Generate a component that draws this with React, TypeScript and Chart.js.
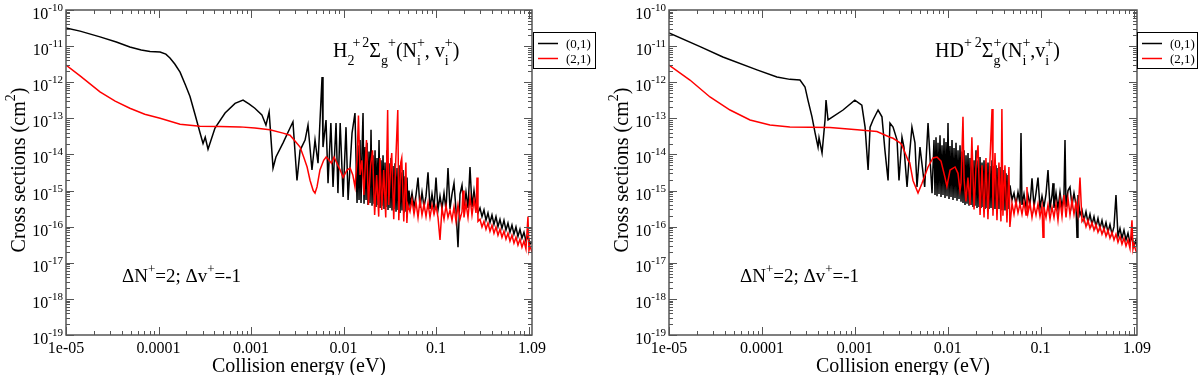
import React, { useEffect, useRef } from "react";
import { Chart, registerables } from "chart.js";

Chart.register(...registerables);

const SERIF = "'Liberation Serif', 'DejaVu Serif', 'Times New Roman', serif";
const AXIS_COLOR = "#555555";

const X_MIN = 1e-5;
const X_MAX = 1.09;
const Y_MIN = 1e-19;
const Y_MAX = 1e-10;

const xMajorTicks = [1e-5, 1e-4, 1e-3, 1e-2, 1e-1, 1];
const xTickValues = [1e-5, 1e-4, 1e-3, 1e-2, 1e-1, 1.09];
const xTickLabels = ["1e-05", "0.0001", "0.001", "0.01", "0.1", "1.09"];
const yTickExponents = [-10, -11, -12, -13, -14, -15, -16, -17, -18, -19];
const minorMultipliers = [2, 3, 4, 5, 6, 7, 8, 9];
const seriesLabels = ["(0,1)", "(2,1)"];
const seriesColors = ["#000000", "#ff0000"];

// H2+ : (0,1) black
const h2Series01: [number, number][] = [
  [1e-5, 3.2e-11], [1.42e-5, 2.6e-11], [2.33e-5, 1.8e-11], [3.5e-5, 1.3e-11], [4.9e-5, 9.5e-12],
  [6.5e-5, 7.8e-12], [8.1e-5, 7.1e-12], [1.04e-4, 6.9e-12], [1.2e-4, 6e-12], [1.33e-4, 4.7e-12],
  [1.5e-4, 3.2e-12], [1.71e-4, 1.9e-12], [1.95e-4, 8.5e-13], [2.19e-4, 4e-13], [2.5e-4, 1.2e-13],
  [2.81e-4, 4e-14], [3.03e-4, 2e-14], [3.2e-4, 3e-14], [3.43e-4, 1.4e-14], [4.08e-4, 5.4e-14],
  [5.24e-4, 1.4e-13], [6.72e-4, 2.6e-13], [8.2e-4, 3.2e-13], [9.5e-4, 2.5e-13], [1.1e-3, 1.9e-13],
  [1.31e-3, 1.25e-13], [1.45e-3, 6.5e-14], [1.57e-3, 1.5e-13], [1.73e-3, 4.2e-15], [1.86e-3, 8.5e-15],
  [2.22e-3, 2.1e-14], [2.64e-3, 5.4e-14], [2.84e-3, 8e-14], [3.14e-3, 1.9e-15], [3.39e-3, 1.3e-14],
  [3.84e-3, 2.5e-14], [4.13e-3, 6.5e-14], [4.56e-3, 3.7e-15], [4.92e-3, 2.5e-14], [5.3e-3, 5.7e-15],
  [5.86e-3, 1.4e-12], [6.0e-3, 1.6e-14], [6.47e-3, 9e-14], [6.8e-3, 1.6e-15], [7.3e-3, 7.4e-14],
  [7.7e-3, 1.26e-15], [8.3e-3, 7.4e-14], [8.7e-3, 8.5e-16], [9.2e-3, 7.4e-14], [9.9e-3, 6.6e-16],
  [0.01064, 5.7e-14], [0.0112, 5.5e-16], [0.01236, 3.9e-14], [0.0133, 1.4e-13], [0.014, 4.5e-16],
  [0.01435, 1.8e-14], [0.01471, 5.5e-16], [0.01508, 2.5e-14], [0.01546, 4.5e-16], [0.01585, 1.3e-14],
  [0.01625, 1.4e-13], [0.01666, 4.3e-16], [0.01708, 1.6e-14], [0.01751, 5.5e-16], [0.01795, 2.1e-14],
  [0.0184, 4e-16], [0.01886, 1.2e-14], [0.01934, 4.5e-16], [0.01983, 4.8e-14], [0.02033, 3.8e-16],
  [0.02084, 9.5e-15], [0.02137, 4.3e-16], [0.02191, 1.3e-14], [0.02246, 3.5e-16], [0.02302, 8e-15],
  [0.0236, 4e-16], [0.0242, 2.5e-14], [0.02481, 3.3e-16], [0.02543, 6.9e-15], [0.02607, 3.8e-16],
  [0.02673, 9.5e-15], [0.02741, 3.1e-16], [0.0281, 6e-15], [0.0288, 3.5e-16], [0.02953, 1.3e-14],
  [0.03027, 2.9e-16], [0.03104, 5.7e-15], [0.03182, 3.3e-16], [0.03262, 8e-15], [0.03344, 2.8e-16],
  [0.03428, 4.8e-15], [0.03515, 3.1e-16], [0.03604, 5.7e-15], [0.03694, 2.6e-16], [0.03787, 4.2e-15],
  [0.03883, 2.9e-16], [0.03981, 5e-15], [0.04081, 2.4e-16], [0.04184, 3.2e-15], [0.04289, 2.8e-16],
  [0.04397, 3.7e-15], [0.04508, 2.4e-16], [0.04622, 2.5e-15], [0.04738, 2.6e-16], [0.04858, 2.3e-15],
  [0.0498, 2.9e-16], [0.05106, 1e-15], [0.05234, 4e-16], [0.05501, 8.5e-16], [0.05782, 3.5e-16],
  [0.06077, 7.5e-16], [0.06387, 2.3e-15], [0.06713, 3.3e-16], [0.07055, 9e-16], [0.07415, 3.5e-16],
  [0.07793, 7e-16], [0.08191, 3.2e-15], [0.08609, 3.1e-16], [0.09048, 8e-16], [0.0951, 3.3e-16],
  [0.09995, 2.3e-15], [0.105, 2.9e-16], [0.1104, 7e-16], [0.116, 3.1e-16], [0.122, 8.5e-16],
  [0.1282, 2.9e-16], [0.1347, 4.2e-15], [0.1416, 3.1e-16], [0.1488, 8e-16], [0.1564, 1.6e-15],
  [0.1644, 2.9e-16], [0.1728, 2.7e-17], [0.1816, 8e-16], [0.1909, 1.4e-15], [0.2006, 2.9e-16],
  [0.2108, 9e-16], [0.2216, 3.3e-16], [0.2329, 4.5e-15], [0.2448, 3.5e-16], [0.2573, 1e-15],
  [0.2704, 3.8e-16], [0.2842, 2.4e-16], [0.2987, 3.3e-16], [0.3139, 1.9e-16], [0.3299, 2.9e-16],
  [0.3468, 1.5e-16], [0.3645, 2.4e-16], [0.3831, 1.3e-16], [0.4026, 2.1e-16], [0.4231, 1.15e-16],
  [0.4447, 1.9e-16], [0.4674, 1e-16], [0.4912, 1.6e-16], [0.5163, 9e-17], [0.5426, 1.5e-16],
  [0.5703, 8e-17], [0.5994, 1.26e-16], [0.63, 7e-17], [0.6621, 1.1e-16], [0.6959, 6.2e-17],
  [0.7314, 9.8e-17], [0.7687, 5.4e-17], [0.8079, 8.5e-17], [0.8491, 4.8e-17], [0.8924, 7e-17],
  [0.9379, 4e-17], [0.9858, 5.4e-17], [1.0361, 3.3e-17], [1.09, 3.7e-17],
];

// H2+ : (2,1) red
const h2Series21: [number, number][] = [
  [1e-5, 3e-12], [1.42e-5, 1.5e-12], [2.33e-5, 5.4e-13], [3.4e-5, 3e-13], [4.9e-5, 1.9e-13],
  [7.1e-5, 1.3e-13], [1.04e-4, 1e-13], [1.71e-4, 6.9e-14], [2.81e-4, 6e-14], [4.6e-4, 5.9e-14],
  [7.6e-4, 5.8e-14], [1.1e-3, 5.4e-14], [1.6e-3, 4.8e-14], [2.22e-3, 3.9e-14], [2.64e-3, 3.4e-14],
  [3.05e-3, 2.2e-14], [3.39e-3, 1.6e-14], [3.75e-3, 7.8e-15], [4.04e-3, 4.5e-15], [4.35e-3, 1.9e-15],
  [4.7e-3, 1e-15], [4.92e-3, 8.5e-16], [5.17e-3, 1.26e-15], [5.56e-3, 3.7e-15], [6.1e-3, 6.9e-15],
  [6.5e-3, 8.5e-15], [7.0e-3, 6.9e-15], [7.4e-3, 5.7e-15], [7.9e-3, 8.5e-15], [8.7e-3, 5e-15],
  [9.2e-3, 3.7e-15], [9.9e-3, 2.3e-15], [0.0109, 3.7e-15], [0.0118, 4.2e-15], [0.0126, 2.7e-15],
  [0.0133, 1.26e-15], [0.014, 6.9e-15], [0.0145, 1.2e-13], [0.0151, 2.7e-15], [0.0158, 6.9e-15],
  [0.0166, 7.5e-16], [0.0177, 2.5e-14], [0.0186, 4e-16], [0.0196, 5e-15], [0.0206, 1.3e-14],
  [0.0217, 2.1e-16], [0.0228, 2.7e-15], [0.024, 1.9e-16], [0.0248, 8e-15], [0.0259, 2.9e-16],
  [0.0272, 3.7e-15], [0.0286, 1.8e-16], [0.03, 1.7e-13], [0.0308, 4e-16], [0.0324, 5e-15],
  [0.0332, 1.1e-14], [0.0349, 1.6e-16], [0.0367, 6.9e-15], [0.0386, 1.7e-13], [0.0396, 1.5e-16],
  [0.0416, 6e-15], [0.0426, 8e-15], [0.0448, 1.4e-16], [0.0472, 6e-15], [0.0484, 1.26e-16],
  [0.0496, 4e-16], [0.0523, 2.6e-16], [0.05501, 5.5e-16], [0.05782, 2.2e-16], [0.06077, 4.8e-16],
  [0.06387, 1.8e-16], [0.06713, 5.5e-16], [0.07055, 2.1e-16], [0.07415, 4.3e-16], [0.07793, 1.9e-16],
  [0.08191, 4.5e-16], [0.08609, 1.8e-16], [0.09048, 4e-16], [0.0951, 2.2e-16], [0.09995, 3.8e-16],
  [0.105, 1.8e-16], [0.1104, 4.3e-17], [0.116, 3.3e-16], [0.122, 1.6e-16], [0.1282, 3.8e-16],
  [0.1347, 1.8e-16], [0.1416, 2.9e-16], [0.1488, 1.5e-16], [0.1564, 3.5e-16], [0.1644, 1.4e-16],
  [0.1728, 4e-16], [0.1816, 1.6e-16], [0.1909, 2.6e-16], [0.1957, 1e-15], [0.2006, 1.8e-16],
  [0.2108, 4.5e-16], [0.2216, 1.8e-16], [0.2329, 6.6e-16], [0.2448, 2.1e-16], [0.2573, 5.5e-16],
  [0.2704, 2.4e-16], [0.2773, 2.3e-15], [0.2842, 1.4e-16], [0.2987, 1.6e-16], [0.3139, 9.8e-17],
  [0.3299, 1.4e-16], [0.3468, 8.5e-17], [0.3645, 1.26e-16], [0.3831, 7.5e-17], [0.4026, 1.1e-16],
  [0.4231, 6.6e-17], [0.4447, 9.8e-17], [0.4674, 5.8e-17], [0.4912, 8.5e-17], [0.5163, 5.1e-17],
  [0.5426, 7.5e-17], [0.5703, 4.5e-17], [0.5994, 6.6e-17], [0.63, 4e-17], [0.6621, 5.8e-17],
  [0.6959, 3.5e-17], [0.7314, 5.1e-17], [0.7687, 3.1e-17], [0.8079, 4.5e-17], [0.8491, 2.7e-17],
  [0.8924, 4e-17], [0.9379, 2.4e-17], [0.9858, 1.9e-16], [1.0106, 2.2e-17], [1.0361, 2.9e-17],
  [1.09, 2e-17],
];

// HD+ : (0,1) black
const hdSeries01: [number, number][] = [
  [1e-5, 2.3e-11], [2.16e-5, 9.7e-12], [3.8e-5, 5e-12], [8.85e-5, 2.2e-12], [1.45e-4, 1.4e-12],
  [2.0e-4, 1.2e-12], [2.57e-4, 1.15e-12], [2.91e-4, 7.4e-13], [3.13e-4, 3.2e-13], [3.46e-4, 1.1e-13],
  [3.73e-4, 4e-14], [4.02e-4, 1.6e-14], [4.12e-4, 2.9e-14], [4.44e-4, 1.1e-14], [4.78e-4, 9e-14],
  [4.9e-4, 3.2e-13], [5.15e-4, 9e-14], [7.47e-4, 1.7e-13], [1.0e-3, 3.2e-13], [1.19e-3, 2.3e-13],
  [1.29e-3, 5.7e-14], [1.39e-3, 3.7e-15], [1.46e-3, 5.7e-14], [1.57e-3, 9e-14], [1.78e-3, 1.7e-13],
  [1.96e-3, 1.1e-13], [2.11e-3, 1.3e-14], [2.28e-3, 1.9e-15], [2.39e-3, 7.4e-14], [2.58e-3, 5.7e-14],
  [2.85e-3, 2.5e-14], [2.99e-3, 1.9e-15], [3.22e-3, 3e-14], [3.38e-3, 1.6e-14], [3.65e-3, 1.26e-15],
  [3.83e-3, 6.9e-15], [4.12e-3, 5.7e-14], [4.44e-3, 2.1e-14], [4.67e-3, 1.26e-15], [5.03e-3, 1.6e-14],
  [5.65e-3, 1.26e-15], [6.14e-3, 7.4e-14], [6.78e-3, 8.5e-16],
  [0.00712, 2.5e-14], [0.007299, 7.5e-16], [0.007482, 3e-14], [0.00767, 7e-16], [0.007862, 2.1e-14],
  [0.008059, 8e-16], [0.008262, 3.4e-14], [0.008469, 6.6e-16], [0.008681, 1.8e-14], [0.008899, 7.5e-16],
  [0.009123, 2.8e-14], [0.009352, 6.2e-16], [0.009586, 2.2e-14], [0.009827, 7e-16], [0.010074, 7.4e-14],
  [0.010327, 5.8e-16], [0.010586, 1.7e-14], [0.010852, 6.6e-16], [0.011124, 2.5e-14], [0.011403, 5.5e-16],
  [0.011689, 1.5e-14], [0.011983, 6.2e-16], [0.012283, 2.1e-14], [0.012592, 5.2e-16], [0.012908, 1.3e-14],
  [0.013231, 5.8e-16], [0.013563, 1.8e-14], [0.013904, 4.9e-16], [0.014253, 1.2e-14], [0.01461, 4.5e-16],
  [0.014977, 1.3e-14], [0.015353, 4e-16], [0.015738, 9.5e-15], [0.016133, 4.3e-16], [0.016538, 1.1e-14],
  [0.016953, 3.8e-16], [0.017378, 8e-15], [0.017814, 4e-16], [0.018261, 8.9e-15], [0.018719, 3.5e-16],
  [0.019189, 6.9e-15], [0.01967, 3.8e-16], [0.020164, 1.3e-14], [0.02067, 3.3e-16], [0.021188, 6.9e-15],
  [0.02172, 3.5e-16], [0.022265, 8.5e-15], [0.022824, 3.3e-16], [0.023396, 6e-15], [0.023983, 3.5e-16],
  [0.024585, 6.9e-15], [0.025202, 3.1e-16], [0.025834, 5.4e-15], [0.026482, 3.3e-16], [0.027147, 6e-15],
  [0.027828, 3.1e-16], [0.028526, 4.8e-15], [0.029242, 3.3e-16], [0.029976, 6.9e-15], [0.030728, 2.9e-16],
  [0.031499, 4.8e-15], [0.032289, 3.1e-16], [0.033099, 5e-15], [0.03393, 2.9e-16], [0.034781, 4.2e-15],
  [0.035654, 3.1e-16], [0.036548, 4.5e-15], [0.037465, 2.8e-16], [0.038405, 3.7e-15], [0.039369, 2.9e-16],
  [0.040357, 3.7e-15], [0.041369, 2.8e-16], [0.042407, 3e-15], [0.043471, 2.9e-16], [0.044562, 2.7e-15],
  [0.04568, 3.1e-16], [0.046826, 1.4e-15],
  [0.04921, 5.5e-16], [0.05171, 8.5e-16], [0.05433, 4e-16], [0.05709, 9e-16], [0.05999, 4.3e-16],
  [0.0615, 3.9e-14], [0.06304, 4e-16], [0.06624, 8e-16], [0.06961, 3.5e-16], [0.07315, 7.5e-16],
  [0.07686, 3.8e-16], [0.08077, 2.2e-15], [0.08487, 3.5e-16], [0.08918, 8.5e-16], [0.09371, 2.3e-15],
  [0.09847, 3.3e-16], [0.1035, 7e-16], [0.1087, 3.5e-16], [0.1143, 8e-16], [0.1201, 3.7e-15],
  [0.1262, 3.3e-16], [0.1326, 7.5e-16], [0.136, 1.6e-15], [0.1393, 3.3e-16], [0.1464, 8.5e-16],
  [0.1538, 3.1e-16], [0.1617, 9e-16], [0.1699, 3.3e-16], [0.1785, 8e-16], [0.183, 2.5e-14],
  [0.1876, 3.5e-16], [0.1971, 1e-15], [0.2071, 1.26e-15], [0.2176, 3.8e-16], [0.2287, 8.5e-16],
  [0.2403, 4e-16], [0.2464, 5.1e-17], [0.2525, 7.5e-16], [0.2653, 2.1e-16], [0.2788, 2.9e-16],
  [0.293, 1.5e-16], [0.3079, 2.6e-16], [0.3235, 1.3e-16], [0.3399, 2.2e-16], [0.3572, 1.15e-16],
  [0.3754, 1.9e-16], [0.3944, 1e-16], [0.4145, 1.7e-16], [0.4355, 9e-17], [0.4577, 1.5e-16],
  [0.4809, 8e-17], [0.5054, 1.3e-16], [0.531, 7e-17], [0.558, 1.15e-16], [0.5864, 6.2e-17],
  [0.6162, 1e-16], [0.6475, 7.5e-16], [0.6804, 5.4e-17], [0.7149, 9e-17], [0.7513, 4.8e-17],
  [0.7895, 8e-17], [0.8296, 4.3e-17], [0.8717, 6.6e-17], [0.916, 3.5e-17], [0.9626, 5.4e-17],
  [1.0115, 2.9e-17], [1.0629, 4.3e-17], [1.09, 2.7e-17],
];

// HD+ : (2,1) red
const hdSeries21: [number, number][] = [
  [1e-5, 3e-12], [1.68e-5, 1.15e-12], [2.76e-5, 3.9e-13], [4.54e-5, 1.7e-13], [7.45e-5, 9e-14],
  [1.22e-4, 6.5e-14], [2.0e-4, 5.8e-14], [5.4e-4, 5.6e-14], [1.06e-3, 4.8e-14], [1.73e-3, 4.3e-14],
  [2.39e-3, 3e-14], [2.58e-3, 2.8e-14], [3.07e-3, 2.1e-14], [3.22e-3, 1.8e-14], [3.74e-3, 6.9e-15],
  [3.9e-3, 6e-15], [4.23e-3, 1.9e-15], [4.79e-3, 8.5e-16], [5.29e-3, 1.6e-15], [6.14e-3, 4.5e-15],
  [6.95e-3, 8e-15], [7.67e-3, 8.5e-15], [8.47e-3, 6.5e-15], [9.35e-3, 2.3e-15], [9.8e-3, 1.3e-15],
  [0.0106, 3.7e-15], [0.012, 4.5e-15], [0.0129, 3e-15], [0.01356, 1e-15], [0.0139, 1.6e-15],
  [0.0146, 1.1e-13], [0.015, 2e-15], [0.0157, 5e-16], [0.0165, 2.3e-15], [0.0174, 4e-16],
  [0.0182, 3e-14], [0.0192, 3e-16], [0.0202, 5e-15], [0.0212, 1.8e-14], [0.0223, 2.1e-16],
  [0.0234, 5e-15], [0.0246, 1.8e-16], [0.0258, 8e-15], [0.0271, 1.6e-16], [0.0285, 6.9e-15],
  [0.03, 1.8e-13], [0.0307, 2e-16], [0.0323, 1.1e-14], [0.0339, 1.5e-16], [0.0356, 6e-15],
  [0.0374, 1.4e-16], [0.0383, 1.8e-13], [0.0393, 2e-16], [0.0413, 5e-15], [0.0434, 1.3e-16],
  [0.0456, 4.5e-15], [0.0467, 9.8e-17],
  [0.04921, 4.5e-16], [0.05171, 2.2e-16], [0.05433, 5e-16], [0.05709, 2.4e-16], [0.05999, 4.3e-16],
  [0.06304, 2.2e-16], [0.06624, 4.8e-16], [0.06961, 2.1e-16], [0.0713, 1.26e-15], [0.07315, 2.4e-16],
  [0.07686, 4.5e-16], [0.08077, 1.8e-16], [0.08487, 4e-16], [0.08918, 2.1e-16], [0.09371, 4.3e-16],
  [0.09847, 1.9e-16], [0.1035, 3.8e-16], [0.1061, 5.1e-17], [0.1087, 3.5e-16], [0.1143, 1.8e-16],
  [0.1201, 4e-16], [0.1262, 1.6e-16], [0.1326, 3.5e-16], [0.1393, 1.8e-16], [0.1464, 4.3e-16],
  [0.1538, 1.5e-16], [0.1617, 5.5e-16], [0.1699, 1.9e-16], [0.1785, 7.5e-16], [0.1876, 1.8e-16],
  [0.1971, 6.2e-16], [0.2071, 2.1e-16], [0.2176, 5.5e-16], [0.2287, 2.2e-16], [0.2403, 4.8e-16],
  [0.2525, 2.2e-16], [0.2653, 2.3e-15], [0.2788, 1.4e-16], [0.293, 1.7e-16], [0.3079, 1e-16],
  [0.3235, 1.5e-16], [0.3399, 9e-17], [0.3572, 1.3e-16], [0.3754, 8e-17], [0.3944, 1.15e-16],
  [0.4145, 7e-17], [0.4355, 1e-16], [0.4577, 6.2e-17], [0.4809, 9e-17], [0.5054, 5.4e-17],
  [0.531, 8e-17], [0.558, 4.8e-17], [0.5864, 7e-17], [0.6162, 4.3e-17], [0.6475, 6.2e-17],
  [0.6804, 3.7e-17], [0.7149, 5.4e-17], [0.7513, 3.3e-17], [0.7895, 4.8e-17], [0.8296, 2.9e-17],
  [0.8717, 4.3e-17], [0.916, 2.5e-17], [0.9626, 1.5e-16], [0.986, 2.4e-17], [1.0115, 3.3e-17],
  [1.0629, 2.1e-17], [1.09, 2e-17],
];

type Seg = { t?: string; sup?: string; sub?: string; gap?: number };

const h2Title: Seg[] = [
  { t: "H" }, { sub: "2" }, { gap: -2 }, { sup: "+" }, { gap: 2 }, { sup: "2" }, { t: "Σ" },
  { sub: "g" }, { sup: "+" }, { t: "(N" }, { sup: "+", sub: "i" }, { t: ", v" }, { sup: "+", sub: "i" }, { t: ")" },
];
const hdTitle: Seg[] = [
  { t: "HD" }, { sup: "+" }, { gap: 3 }, { sup: "2" }, { t: "Σ" }, { sup: "+", sub: "g" },
  { t: "(N" }, { sup: "+", sub: "i" }, { t: ",v" }, { sup: "+", sub: "i" }, { t: ")" },
];
const transitionNote: Seg[] = [{ t: "ΔN" }, { sup: "+" }, { t: "=2; Δv" }, { sup: "+" }, { t: "=-1" }];
const yTitle: Seg[] = [{ t: "Cross sections (cm" }, { sup: "2" }, { t: ")" }];
const xTitle: Seg[] = [{ t: "Collision energy (eV)" }];

function drawRich(
  ctx: CanvasRenderingContext2D,
  segs: Seg[],
  x: number,
  y: number,
  size: number,
  align: "left" | "center" | "right",
  smallSize?: number
) {
  const big = `${size}px ${SERIF}`;
  const small = `${smallSize ?? Math.round(size * 0.68)}px ${SERIF}`;
  const widths = segs.map((s) => {
    if (s.gap !== undefined) return s.gap;
    if (s.t !== undefined) {
      ctx.font = big;
      return ctx.measureText(s.t).width;
    }
    ctx.font = small;
    return Math.max(s.sup ? ctx.measureText(s.sup).width : 0, s.sub ? ctx.measureText(s.sub).width : 0);
  });
  const total = widths.reduce((p, c) => p + c, 0);
  let cx = align === "left" ? x : align === "center" ? x - total / 2 : x - total;
  ctx.textAlign = "left";
  ctx.textBaseline = "alphabetic";
  segs.forEach((s, i) => {
    if (s.t !== undefined) {
      ctx.font = big;
      ctx.fillText(s.t, cx, y);
    } else if (s.gap === undefined) {
      ctx.font = small;
      if (s.sup) ctx.fillText(s.sup, cx, y - size * 0.5);
      if (s.sub) ctx.fillText(s.sub, cx, y + size * 0.4);
    }
    cx += widths[i];
  });
}

type PanelCfg = {
  series: [number, number][][];
  padLeft: number;
  padRight: number;
  title: Seg[];
  titleX: number;
  noteX: number;
  legendX: number;
  legendW: number;
  yTitleX: number;
};

const panels: PanelCfg[] = [
  { series: [h2Series01, h2Series21], padLeft: 66, padRight: 68, title: h2Title, titleX: 333, noteX: 122, legendX: 533, legendW: 62, yTitleX: 25 },
  { series: [hdSeries01, hdSeries21], padLeft: 69, padRight: 63, title: hdTitle, titleX: 335, noteX: 140, legendX: 537, legendW: 60, yTitleX: 28 },
];

function makeDecor(cfg: PanelCfg) {
  return {
    id: "decor",
    afterDraw(chart: any) {
      const ctx: CanvasRenderingContext2D = chart.ctx;
      const a = chart.chartArea;
      const xs = chart.scales.x;
      const ys = chart.scales.y;
      ctx.save();
      ctx.strokeStyle = AXIS_COLOR;
      ctx.lineWidth = 1;
      const line = (x1: number, y1: number, x2: number, y2: number) => {
        ctx.beginPath();
        ctx.moveTo(x1, y1);
        ctx.lineTo(x2, y2);
        ctx.stroke();
      };
      xMajorTicks.forEach((d) => {
        [1, ...minorMultipliers].forEach((m) => {
          const v = d * m;
          if (v > X_MAX * 1.0001) return;
          const px = Math.round(xs.getPixelForValue(v)) + 0.5;
          const len = m === 1 ? 8 : 4;
          line(px, a.bottom, px, a.bottom - len);
          line(px, a.top, px, a.top + len);
        });
      });
      yTickExponents.forEach((e) => {
        const d = Math.pow(10, e);
        [1, ...minorMultipliers].forEach((m) => {
          const v = d * m;
          if (v > Y_MAX * 1.0001) return;
          const py = Math.round(ys.getPixelForValue(v)) + 0.5;
          const len = m === 1 ? 8 : 4;
          line(a.left, py, a.left + len, py);
          line(a.right, py, a.right - len, py);
        });
      });
      ctx.lineWidth = 1.5;
      ctx.strokeRect(a.left, a.top, a.right - a.left, a.bottom - a.top);

      ctx.fillStyle = "#000";
      xTickValues.forEach((v, i) => {
        const px = xs.getPixelForValue(v);
        ctx.font = `16px ${SERIF}`;
        ctx.textAlign = "center";
        ctx.textBaseline = "alphabetic";
        ctx.fillText(xTickLabels[i], px, 353);
      });
      yTickExponents.forEach((e) => {
        const py = ys.getPixelForValue(Math.pow(10, e));
        drawRich(ctx, [{ t: "10" }, { sup: String(e) }], a.left - 3, py + 9, 16, "right", 11);
      });
      drawRich(ctx, xTitle, (a.left + a.right) / 2, 372, 20, "center");
      ctx.save();
      ctx.translate(cfg.yTitleX, 170);
      ctx.rotate(-Math.PI / 2);
      drawRich(ctx, yTitle, 0, 0, 20, "center");
      ctx.restore();
      drawRich(ctx, cfg.title, cfg.titleX, 57, 20, "left");
      drawRich(ctx, transitionNote, cfg.noteX, 282, 19, "left");
      ctx.strokeStyle = "#000";
      ctx.lineWidth = 1;
      ctx.strokeRect(cfg.legendX + 0.5, 32.5, cfg.legendW, 36);
      seriesLabels.forEach((lab, i) => {
        const ly = 43.5 + i * 15;
        ctx.strokeStyle = seriesColors[i];
        ctx.lineWidth = 1.5;
        line(cfg.legendX + 5, ly, cfg.legendX + 25, ly);
        ctx.fillStyle = "#000";
        ctx.font = `13px ${SERIF}`;
        ctx.textAlign = "left";
        ctx.fillText(lab, cfg.legendX + 33, ly + 4);
      });
      ctx.restore();
    },
  };
}

function Panel({ cfg }: { cfg: PanelCfg }) {
  const ref = useRef<HTMLCanvasElement>(null);
  useEffect(() => {
    if (!ref.current) return;
    const chart = new Chart(ref.current, {
      type: "line",
      data: {
        datasets: cfg.series.map((s, i) => ({
          label: seriesLabels[i],
          data: s.map(([x, y]) => ({ x, y })),
          borderColor: seriesColors[i],
          borderWidth: 1.5,
          pointRadius: 0,
          tension: 0,
          fill: false,
          order: i === 0 ? 1 : 0,
        })),
      },
      options: {
        animation: false,
        responsive: false,
        devicePixelRatio: 1,
        events: [],
        layout: { padding: { left: cfg.padLeft, right: cfg.padRight, top: 10, bottom: 40 } },
        scales: {
          x: { type: "logarithmic", min: X_MIN, max: X_MAX, display: false },
          y: { type: "logarithmic", min: Y_MIN, max: Y_MAX, display: false },
        },
        plugins: { legend: { display: false }, tooltip: { enabled: false } },
      },
      plugins: [makeDecor(cfg)],
    } as any);
    return () => chart.destroy();
  }, [cfg]);
  return (
    <div style={{ width: 600, height: 375 }}>
      <canvas ref={ref} width={600} height={375} style={{ display: "block", width: 600, height: 375 }} />
    </div>
  );
}

export default function App() {
  return (
    <div style={{ position: "absolute", left: 0, top: 0, width: 1200, height: 375, display: "flex", background: "#fff" }}>
      {panels.map((p, i) => (
        <Panel key={i} cfg={p} />
      ))}
    </div>
  );
}
